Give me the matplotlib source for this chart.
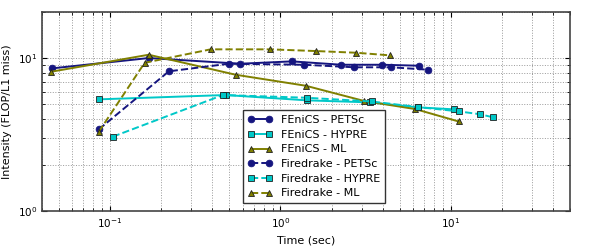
import numpy as np
import matplotlib
matplotlib.use("Agg")
import matplotlib.pyplot as plt

# FEniCS (solid) and Firedrake (dashed) timings vs intensity
fen_petsc_t = [0.0459, 0.169, 0.582, 1.17, 2.28, 3.96, 6.47]
fen_petsc_i = [8.56, 10.0, 9.18, 9.51, 9.04, 9.04, 8.91]
fen_hypre_t = [0.0862, 0.478, 1.43, 3.36, 6.44, 10.4]
fen_hypre_i = [5.37, 5.73, 5.29, 5.13, 4.76, 4.62]
fen_ml_t = [0.0453, 0.169, 0.546, 1.41, 3.10, 6.18, 11.1]
fen_ml_i = [8.14, 10.51, 7.78, 6.59, 5.24, 4.64, 3.85]
fd_petsc_t = [0.0862, 0.222, 0.499, 1.37, 2.72, 4.47, 7.37]
fd_petsc_i = [3.42, 8.19, 9.18, 9.04, 8.70, 8.70, 8.39]
fd_hypre_t = [0.104, 0.460, 1.43, 3.43, 6.44, 11.1, 14.9, 17.6]
fd_hypre_i = [3.06, 5.73, 5.50, 5.20, 4.78, 4.48, 4.29, 4.10]
fd_ml_t = [0.0862, 0.160, 0.390, 0.865, 1.62, 2.79, 4.41]
fd_ml_i = [3.30, 9.31, 11.40, 11.40, 11.11, 10.83, 10.41]

navy, cyan, olive = "#15157f", "#00c8c8", "#808000"

fig = plt.figure(figsize=(6, 2.5), dpi=100)
ax = fig.add_axes([0.07, 0.156, 0.88, 0.796])

series = [
    ("FEniCS - PETSc", fen_petsc_t, fen_petsc_i, navy, "o", "-"),
    ("FEniCS - HYPRE", fen_hypre_t, fen_hypre_i, cyan, "s", "-"),
    ("FEniCS - ML", fen_ml_t, fen_ml_i, olive, "^", "-"),
    ("Firedrake - PETSc", fd_petsc_t, fd_petsc_i, navy, "o", "--"),
    ("Firedrake - HYPRE", fd_hypre_t, fd_hypre_i, cyan, "s", "--"),
    ("Firedrake - ML", fd_ml_t, fd_ml_i, olive, "^", "--"),
]
for name, t, i, c, m, ls in series:
    ax.plot(t, i, ls=ls, marker=m, color=c, lw=1.4, ms=4.8,
            mec="#202020" if m != "o" else c, mew=0.6, label=name)

ax.set_xscale("log")
ax.set_yscale("log")
ax.set_xlim(0.04, 50)
ax.set_ylim(1, 20)
ax.grid(which="both", ls=":", color="#999999", lw=0.7)
ax.tick_params(which="both", direction="in", top=True, right=True, labelsize=7.5)
for s in ax.spines.values():
    s.set_color("#444444")
    s.set_linewidth(1.2)
ax.set_xlabel("Time (sec)", fontsize=8)
ax.set_ylabel("Intensity (FLOP/L1 miss)", fontsize=8)
leg = ax.legend(loc="lower left", bbox_to_anchor=(0.37, 0.01), fontsize=8,
                numpoints=2, fancybox=False, framealpha=1, borderpad=0.45,
                labelspacing=0.42, handlelength=2.2)
leg.get_frame().set_edgecolor("#333333")
fig.savefig("out.png", dpi=100)
